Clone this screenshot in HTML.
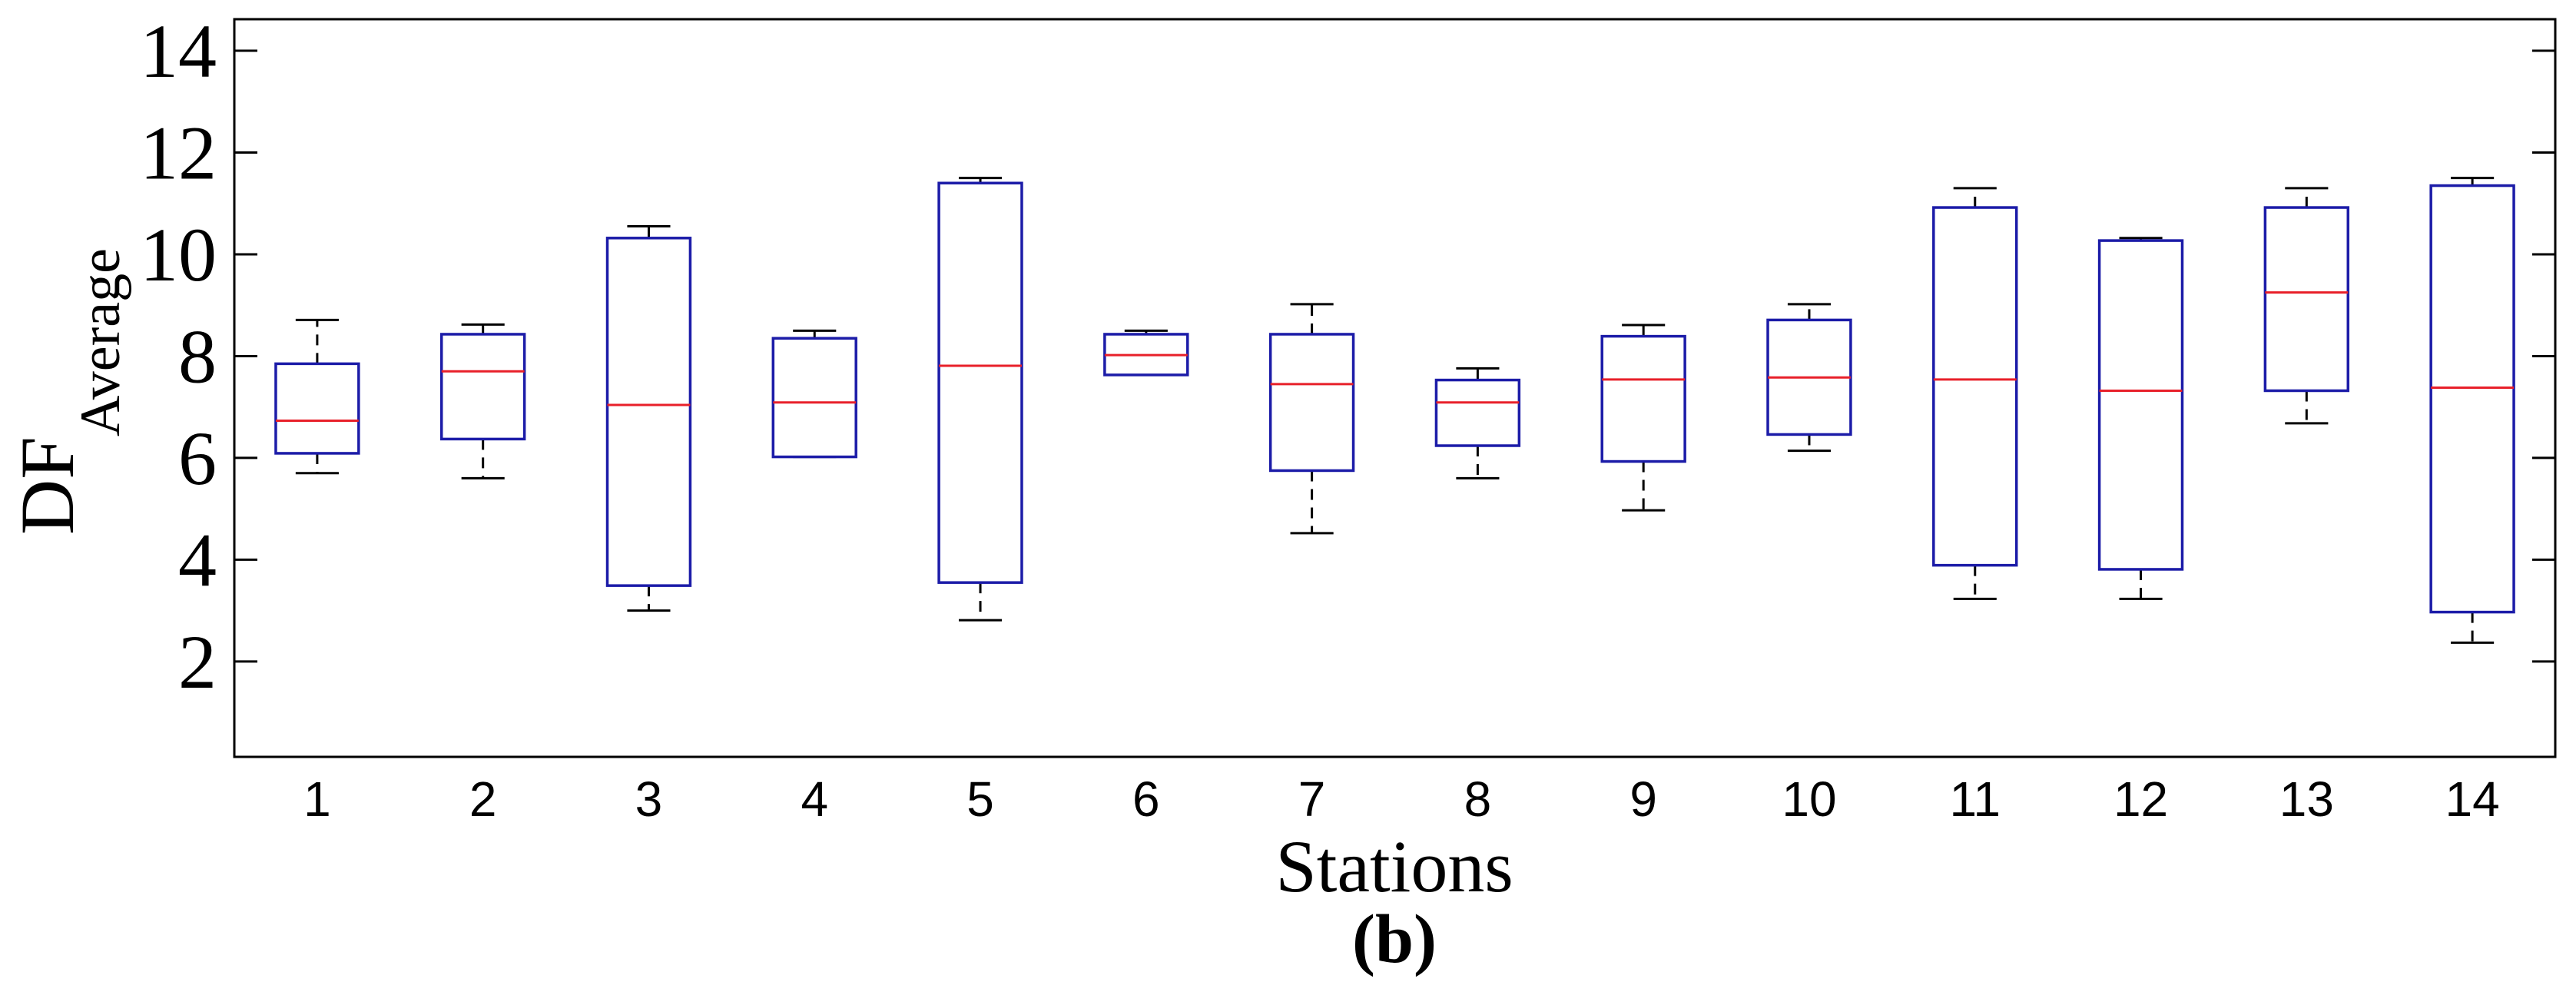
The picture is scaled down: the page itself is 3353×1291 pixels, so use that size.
<!DOCTYPE html>
<html><head><meta charset="utf-8">
<style>html,body{margin:0;padding:0;background:#fff;}svg{display:block;}</style>
</head><body>
<svg id="chart" width="3353" height="1291" viewBox="0 0 3353 1291" xmlns="http://www.w3.org/2000/svg">
<rect x="305" y="25" width="3021" height="960" fill="#fff" stroke="#000" stroke-width="3"/>
<g id="yticks"></g><g id="boxes"></g><g id="xticks"></g>
<text transform="translate(95,696) rotate(-90)" font-family="Liberation Serif, serif" font-size="100" fill="#000">DF<tspan font-size="74" dy="60">Average</tspan></text>
<text x="1815" y="1160" text-anchor="middle" font-family="Liberation Serif, serif" font-size="96" fill="#000">Stations</text>
<text x="1815" y="1252" text-anchor="middle" font-family="Liberation Serif, serif" font-weight="bold" font-size="90" fill="#000">(b)</text>
</svg>
<script>
const stations = [1,2,3,4,5,6,7,8,9,10,11,12,13,14];
const whiskerHigh = [8.71,8.62,10.55,8.50,11.50,8.50,9.02,7.76,8.61,9.02,11.30,10.32,11.30,11.50];
const q3Values = [7.85,8.43,10.32,8.35,11.40,8.43,8.43,7.53,8.39,8.71,10.92,10.27,10.92,11.35];
const medianValues = [6.73,7.70,7.04,7.09,7.81,8.02,7.45,7.09,7.54,7.58,7.54,7.32,9.25,7.38];
const q1Values = [6.09,6.37,3.49,6.02,3.55,7.63,5.75,6.24,5.93,6.46,3.89,3.81,7.32,2.97];
const whiskerLow = [5.70,5.60,3.00,6.02,2.81,7.63,4.52,5.60,4.97,6.14,3.23,3.23,6.68,2.37];
const yTicks = [2,4,6,8,10,12,14];

const NS='http://www.w3.org/2000/svg';
const X0=305, X1=3326, Y0=25, Y1=985;
const xmin=0.5, xmax=14.5, ymin=0.125, ymax=14.62;
function xs(v){return X0+(v-xmin)/(xmax-xmin)*(X1-X0);}
function ys(v){return Y1-(v-ymin)/(ymax-ymin)*(Y1-Y0);}
function mk(tag,attrs,parent){const e=document.createElementNS(NS,tag);for(const k in attrs)e.setAttribute(k,attrs[k]);parent.appendChild(e);return e;}

const yg=document.getElementById('yticks');
yTicks.forEach(t=>{
  const y=ys(t);
  let l=mk('line',{x1:X0,x2:X0+30,y1:y,y2:y,stroke:'#000','stroke-width':3},yg);
  
  
  let r=mk('line',{x1:X1-30,x2:X1,y1:y,y2:y,stroke:'#000','stroke-width':3},yg);
  
  
  let tx=mk('text',{x:282,y:y+34,'text-anchor':'end','font-family':'Liberation Serif, serif','font-size':100,fill:'#000'},yg);
  tx.textContent=t;
  
  
});

const bg=document.getElementById('boxes');
const xg=document.getElementById('xticks');
const hw=0.25, cw=0.13;
stations.forEach((s,i)=>{
  const g=mk('g',{},bg);
  
  
  const cx=xs(s);
  const dash={stroke:'#000','stroke-width':3,'stroke-dasharray':'14,10'};
  if(whiskerHigh[i]>q3Values[i]) mk('line',Object.assign({x1:cx,x2:cx,y1:ys(q3Values[i]),y2:ys(whiskerHigh[i])},dash),g);
  if(whiskerLow[i]<q1Values[i]) mk('line',Object.assign({x1:cx,x2:cx,y1:ys(q1Values[i]),y2:ys(whiskerLow[i])},dash),g);
  mk('line',{x1:xs(s-cw),x2:xs(s+cw),y1:ys(whiskerHigh[i]),y2:ys(whiskerHigh[i]),stroke:'#000','stroke-width':3},g);
  mk('line',{x1:xs(s-cw),x2:xs(s+cw),y1:ys(whiskerLow[i]),y2:ys(whiskerLow[i]),stroke:'#000','stroke-width':3},g);
  mk('rect',{x:xs(s-hw),y:ys(q3Values[i]),width:xs(s+hw)-xs(s-hw),height:ys(q1Values[i])-ys(q3Values[i]),fill:'#fff',stroke:'#1c1ca8','stroke-width':3.5},g);
  const m=mk('line',{x1:xs(s-hw),x2:xs(s+hw),y1:ys(medianValues[i]),y2:ys(medianValues[i]),stroke:'#e8202a','stroke-width':3},g);
  
  
  const t=mk('text',{x:cx,y:1062,'text-anchor':'middle','font-family':'Liberation Sans, sans-serif','font-size':64,fill:'#000'},xg);
  t.textContent=s;
  
  
});
</script>
</body></html>
